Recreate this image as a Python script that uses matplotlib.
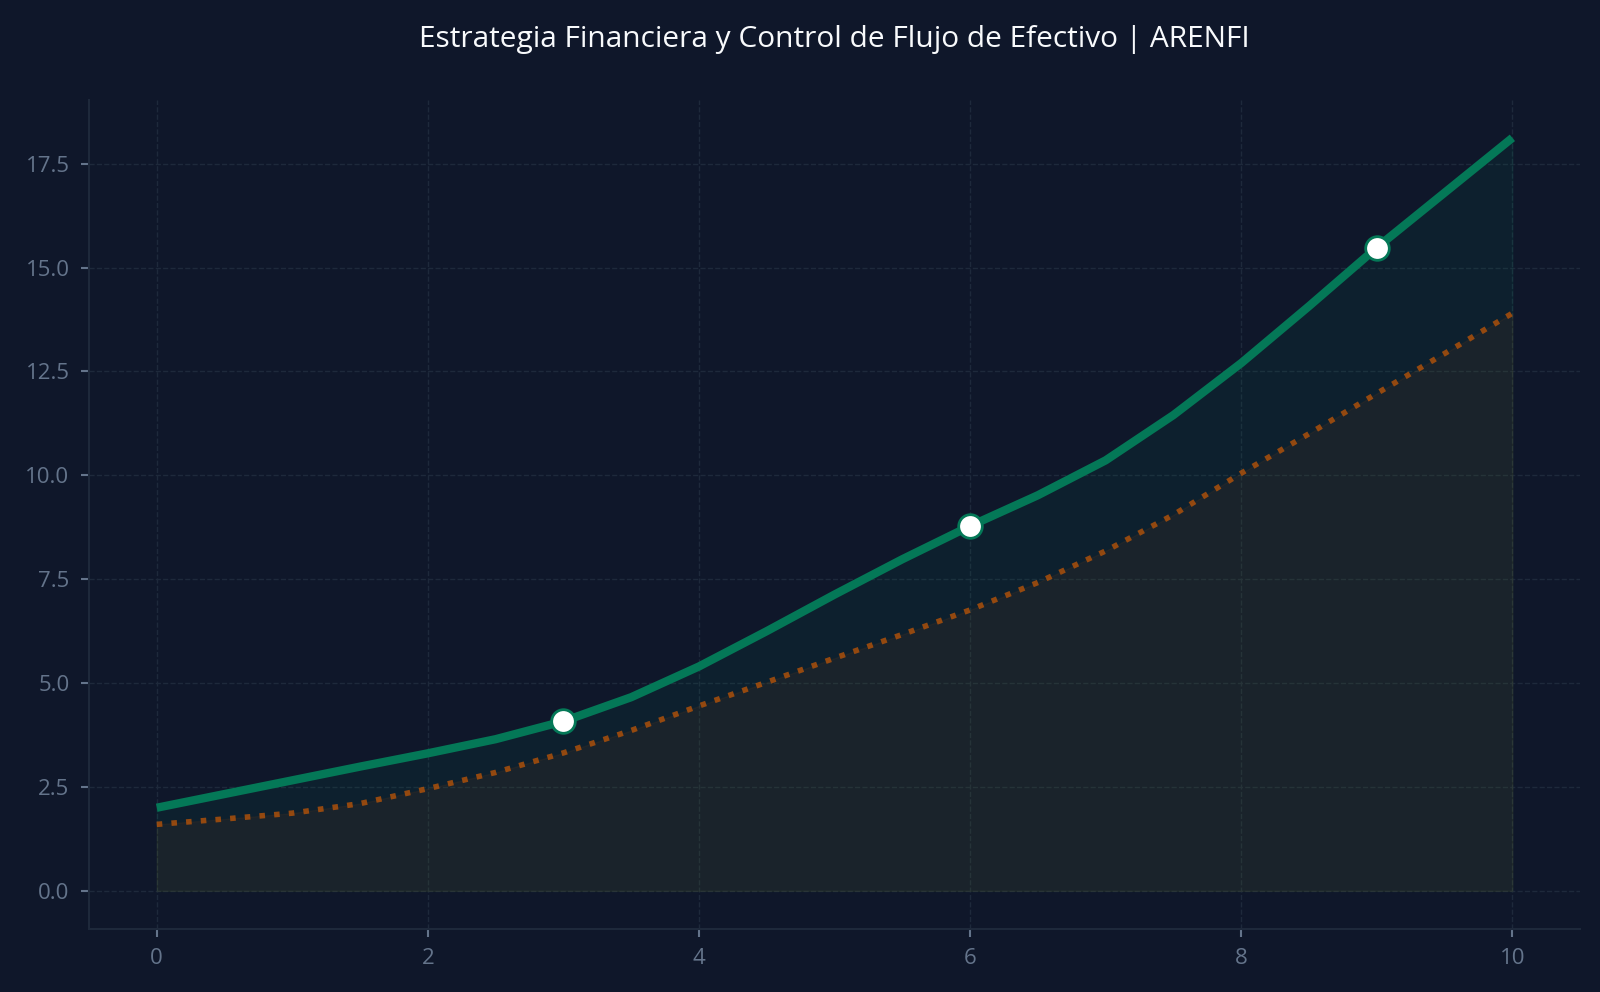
import matplotlib
matplotlib.use("Agg")
import matplotlib.pyplot as plt

# data (step 0.5)
x_vals = [0, 0.5, 1, 1.5, 2, 2.5, 3, 3.5, 4, 4.5, 5,
          5.5, 6, 6.5, 7, 7.5, 8, 8.5, 9, 9.5, 10]
flujo = [2.0, 2.33, 2.66, 2.99, 3.31, 3.65, 4.08, 4.66, 5.40, 6.25, 7.13,
         7.98, 8.78, 9.52, 10.36, 11.45, 12.7, 14.07, 15.48, 16.8, 18.12]
base = [1.6, 1.73, 1.87, 2.1, 2.46, 2.85, 3.32, 3.86, 4.45, 5.02, 5.6,
        6.17, 6.76, 7.42, 8.18, 9.05, 10.05, 11.0, 11.97, 12.93, 13.9]
hitos = [3, 6, 9]

BG = "#0f172a"
GREEN = "#047857"
ORANGE = "#b45309"
MUTED = "#64748b"
GRID = "#1e293b"

plt.rcParams['font.family'] = ['Open Sans', 'DejaVu Sans']

fig = plt.figure(figsize=(16, 9.92), dpi=100, facecolor=BG)
ax = fig.add_axes([0.0556, 0.064, 0.932, 0.835])
ax.set_facecolor(BG)

ax.fill_between(x_vals, flujo, color=GREEN, alpha=0.1)
ax.fill_between(x_vals, base, color=ORANGE, alpha=0.08)
ax.plot(x_vals, base, color=ORANGE, lw=4, ls=':', alpha=0.8)
ax.plot(x_vals, flujo, color=GREEN, lw=6, solid_capstyle='butt',
        solid_joinstyle='round')

hx = [x_vals[i] for i, v in enumerate(x_vals) if v in hitos]
hy = [flujo[i] for i, v in enumerate(x_vals) if v in hitos]
ax.plot(hx, hy, ls='none', marker='o', ms=17, mfc='white', mec=GREEN, mew=2)

ax.set_title("Estrategia Financiera y Control de Flujo de Efectivo | ARENFI",
             color="#f8fafc", fontsize=21.5, pad=38)

ax.grid(True, ls='--', color=GRID, lw=1)
ax.set_axisbelow(True)
for s in ['top', 'right']:
    ax.spines[s].set_visible(False)
for s in ['left', 'bottom']:
    ax.spines[s].set_color(GRID)
    ax.spines[s].set_linewidth(1.5)
ax.tick_params(colors=MUTED, labelsize=16, length=6, width=1.5, pad=8)

fig.savefig("out.png", facecolor=BG)
